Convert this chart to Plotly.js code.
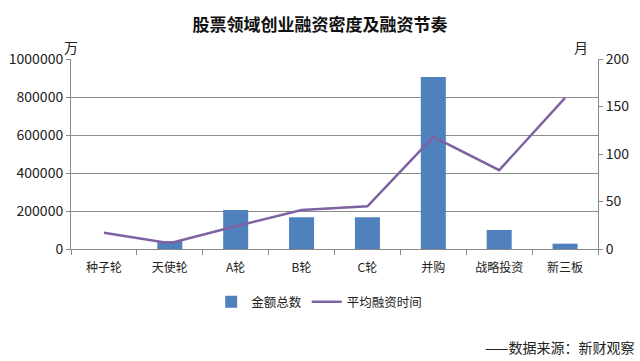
<!DOCTYPE html>
<html><head><meta charset="utf-8">
<script src="https://cdn.plot.ly/plotly-3.0.1.min.js"></script>
<style>html,body{margin:0;padding:0;background:#fff}#c{width:640px;height:361px}</style>
</head><body><div id="c"></div>
<script>
const categories = ["种子轮","天使轮","A轮","B轮","C轮","并购","战略投资","新三板"];
const amountTotal = [0, 42000, 205000, 167000, 167000, 905000, 100000, 28000];
const avgMonths = [17, 6, 24, 41, 45, 118, 83, 159];
const leftTicks = [0,200000,400000,600000,800000,1000000];
const rightTicks = [0,50,100,150,200];

const font = "Noto Sans CJK SC, Microsoft YaHei, sans-serif";
const data = [
  {type:"bar", x:categories, y:amountTotal, name:"金额总数", marker:{color:"#4F81BD"}, width:0.38},
  {type:"scatter", mode:"lines", x:categories, y:avgMonths, yaxis:"y2", name:"平均融资时间", line:{color:"#7F62A2", width:2.5}}
];
const layout = {
  width:640, height:361,
  margin:{l:71, r:42, t:59, b:112},
  paper_bgcolor:"#fff", plot_bgcolor:"#fff",
  font:{family:font, size:12, color:"#222"},
  title:{text:"<b>股票领域创业融资密度及融资节奏</b>", x:0.5, xanchor:"center", y:0.93, yanchor:"middle", yref:"container", font:{size:17, color:"#111", family:font}},
  xaxis:{type:"category", showline:true, linecolor:"#888", ticks:"outside", tickson:"boundaries", ticklen:5, tickcolor:"#888", showgrid:false, tickfont:{size:12}, ticklabelstandoff:8},
  yaxis:{range:[0,1000000], tickvals:leftTicks, tickformat:"d", showline:true, linecolor:"#888", ticks:"outside", ticklen:4, tickcolor:"#888", gridcolor:"#8c8c8c", gridwidth:1, zeroline:false, tickfont:{size:14}},
  yaxis2:{range:[0,200], tickvals:rightTicks, overlaying:"y", side:"right", showline:true, linecolor:"#888", ticks:"outside", ticklen:4, tickcolor:"#888", showgrid:false, zeroline:false, tickfont:{size:14}},
  showlegend:true,
  legend:{orientation:"h", xref:"container", yref:"container", x:0.33, xanchor:"left", y:1-287/361, yanchor:"top", font:{size:12.5}, traceorder:"normal", itemwidth:30},
  bargap:0.5,
  annotations:[
    {text:"万", xref:"paper", yref:"paper", x:-0.017, y:1.0, xanchor:"left", yanchor:"bottom", showarrow:false, font:{size:14}},
    {text:"月", xref:"paper", yref:"paper", x:0.985, y:1.0, xanchor:"right", yanchor:"bottom", showarrow:false, font:{size:14}},
    {text:"——数据来源：新财观察", xref:"paper", yref:"paper", x:(636-71)/527, y:(249-347)/190, xanchor:"right", yanchor:"middle", showarrow:false, font:{size:14}}
  ]
};
Plotly.newPlot("c", data, layout, {displayModeBar:false, staticPlot:true});
</script></body></html>
